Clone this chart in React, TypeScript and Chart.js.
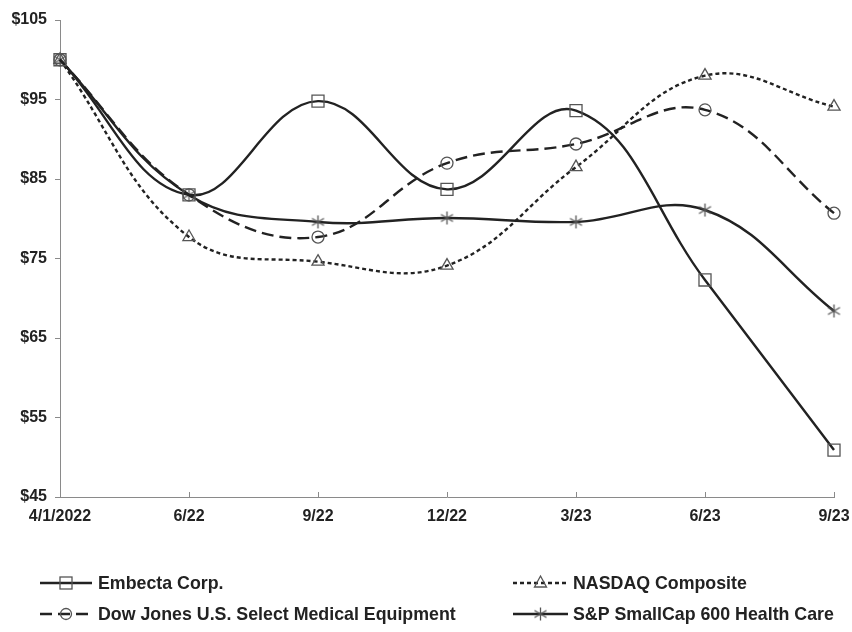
import React, { useEffect, useRef } from "react";
import { Chart, registerables } from "chart.js";

Chart.register(...registerables);

const categories = ["4/1/2022", "6/22", "9/22", "12/22", "3/23", "6/23", "9/23"];
const embecta = [100, 83.0, 94.8, 83.7, 93.6, 72.3, 50.9];
const nasdaq = [100, 77.7, 74.6, 74.1, 86.5, 98.0, 94.1];
const dowJones = [100, 83.0, 77.7, 87.0, 89.4, 93.7, 80.7];
const spHealth = [100, 83.0, 79.6, 80.1, 79.6, 81.1, 68.4];
const seriesNames = [
  "Embecta Corp.",
  "NASDAQ Composite",
  "Dow Jones U.S. Select Medical Equipment",
  "S&P SmallCap 600 Health Care",
];
const yTicks = [45, 55, 65, 75, 85, 95, 105];

const FONT = '"Liberation Sans", Arial, Helvetica, sans-serif';
const LINE = "#222222";
const MARK = "#555555";
const AXIS = "#8a8a8a";

function makeAsterisk(): HTMLCanvasElement {
  const c = document.createElement("canvas");
  c.width = 15;
  c.height = 15;
  const ctx = c.getContext("2d")!;
  ctx.strokeStyle = MARK;
  ctx.lineWidth = 1.3;
  ctx.beginPath();
  ctx.moveTo(7.5, 1);
  ctx.lineTo(7.5, 14);
  ctx.moveTo(1.5, 4);
  ctx.lineTo(13.5, 11);
  ctx.moveTo(1.5, 11);
  ctx.lineTo(13.5, 4);
  ctx.stroke();
  return c;
}

function drawMarker(ctx: CanvasRenderingContext2D, style: any, x: number, y: number) {
  ctx.save();
  ctx.strokeStyle = MARK;
  ctx.lineWidth = 1.3;
  ctx.setLineDash([]);
  if (style instanceof HTMLCanvasElement) {
    ctx.drawImage(style, x - style.width / 2, y - style.height / 2);
  } else if (style === "rect") {
    ctx.strokeRect(x - 6, y - 6, 12, 12);
  } else if (style === "circle") {
    ctx.beginPath();
    ctx.arc(x, y, 5.5, 0, Math.PI * 2);
    ctx.stroke();
  } else if (style === "triangle") {
    ctx.beginPath();
    ctx.moveTo(x, y - 7);
    ctx.lineTo(x + 6, y + 4);
    ctx.lineTo(x - 6, y + 4);
    ctx.closePath();
    ctx.stroke();
  }
  ctx.restore();
}

export default function App() {
  const ref = useRef<HTMLCanvasElement | null>(null);

  useEffect(() => {
    if (!ref.current) return;
    const asterisk = makeAsterisk();
    const styles: any[] = ["rect", "triangle", "circle", asterisk];
    const radii = [8.5, 7, 6, 7];
    const dashes = [[], [4, 3], [12, 6], []];
    const values = [embecta, nasdaq, dowJones, spHealth];

    const datasets = values.map((v, i) => ({
      label: seriesNames[i],
      data: v,
      borderColor: LINE,
      borderWidth: 2.4,
      borderDash: dashes[i],
      tension: 0.4,
      pointStyle: styles[i],
      pointRadius: radii[i],
      pointBorderColor: MARK,
      pointBorderWidth: 1.3,
      pointBackgroundColor: "rgba(0,0,0,0)",
      clip: false as any,
      fill: false,
    }));

    const extras = {
      id: "extras",
      afterDraw(chart: any) {
        const ctx: CanvasRenderingContext2D = chart.ctx;
        const xs = chart.scales.x;
        const bottom = chart.chartArea.bottom;
        ctx.save();
        ctx.strokeStyle = AXIS;
        ctx.lineWidth = 1;
        categories.forEach((_, i) => {
          if (i === 0) return;
          const x = Math.round(xs.getPixelForValue(i)) + 0.5;
          ctx.beginPath();
          ctx.moveTo(x, bottom);
          ctx.lineTo(x, bottom - 5);
          ctx.stroke();
        });
        ctx.restore();

        const cols = [
          { x0: 40, x1: 92, tx: 98 },
          { x0: 513, x1: 568, tx: 573 },
        ];
        const rows = [583, 614];
        const order = [
          { ds: 0, c: 0, r: 0 },
          { ds: 1, c: 1, r: 0 },
          { ds: 2, c: 0, r: 1 },
          { ds: 3, c: 1, r: 1 },
        ];
        order.forEach(({ ds, c, r }) => {
          const col = cols[c];
          const y = rows[r];
          ctx.save();
          ctx.strokeStyle = LINE;
          ctx.lineWidth = 2.4;
          ctx.setLineDash(dashes[ds]);
          ctx.beginPath();
          ctx.moveTo(col.x0, y);
          ctx.lineTo(col.x1, y);
          ctx.stroke();
          ctx.restore();
          drawMarker(ctx, styles[ds], (col.x0 + col.x1) / 2, y);
          ctx.save();
          ctx.fillStyle = LINE;
          ctx.font = `bold 17.8px ${FONT}`;
          ctx.textBaseline = "middle";
          ctx.textAlign = "left";
          ctx.fillText(chart.data.datasets[ds].label, col.tx, y + 1);
          ctx.restore();
        });
      },
    };

    const chart = new Chart(ref.current, {
      type: "line",
      data: { labels: categories, datasets: datasets as any },
      options: {
        animation: false,
        responsive: true,
        maintainAspectRatio: false,
        layout: { padding: { top: 20, right: 18, left: 0, bottom: 0 } },
        plugins: { legend: { display: false }, tooltip: { enabled: false } },
        scales: {
          x: {
            type: "category",
            offset: false,
            grid: { display: true, drawOnChartArea: false, drawTicks: false },
            border: { display: true, color: AXIS, width: 1 },
            ticks: {
              color: LINE,
              font: { family: FONT, size: 16, weight: "bold" },
              padding: 10,
              maxRotation: 0,
              autoSkip: false,
            },
            afterFit: (s: any) => {
              s.height = 135;
              s.paddingLeft = 0;
              s.paddingRight = 0;
            },
          },
          y: {
            min: 45,
            max: 105,
            afterBuildTicks: (s: any) => {
              s.ticks = yTicks.map((v) => ({ value: v }));
            },
            grid: { drawOnChartArea: false, drawTicks: true, tickLength: 5, color: AXIS },
            border: { display: true, color: AXIS, width: 1 },
            ticks: {
              color: LINE,
              font: { family: FONT, size: 16, weight: "bold" },
              padding: 8,
              callback: (v: any) => "$" + v,
            },
            afterFit: (s: any) => {
              s.width = 60;
              s.paddingTop = 0;
              s.paddingBottom = 0;
            },
          },
        },
      },
      plugins: [extras],
    });
    return () => chart.destroy();
  }, []);

  return (
    <div style={{ position: "absolute", left: 0, top: 0, width: 852, height: 632, background: "#fff" }}>
      <canvas ref={ref} />
    </div>
  );
}
